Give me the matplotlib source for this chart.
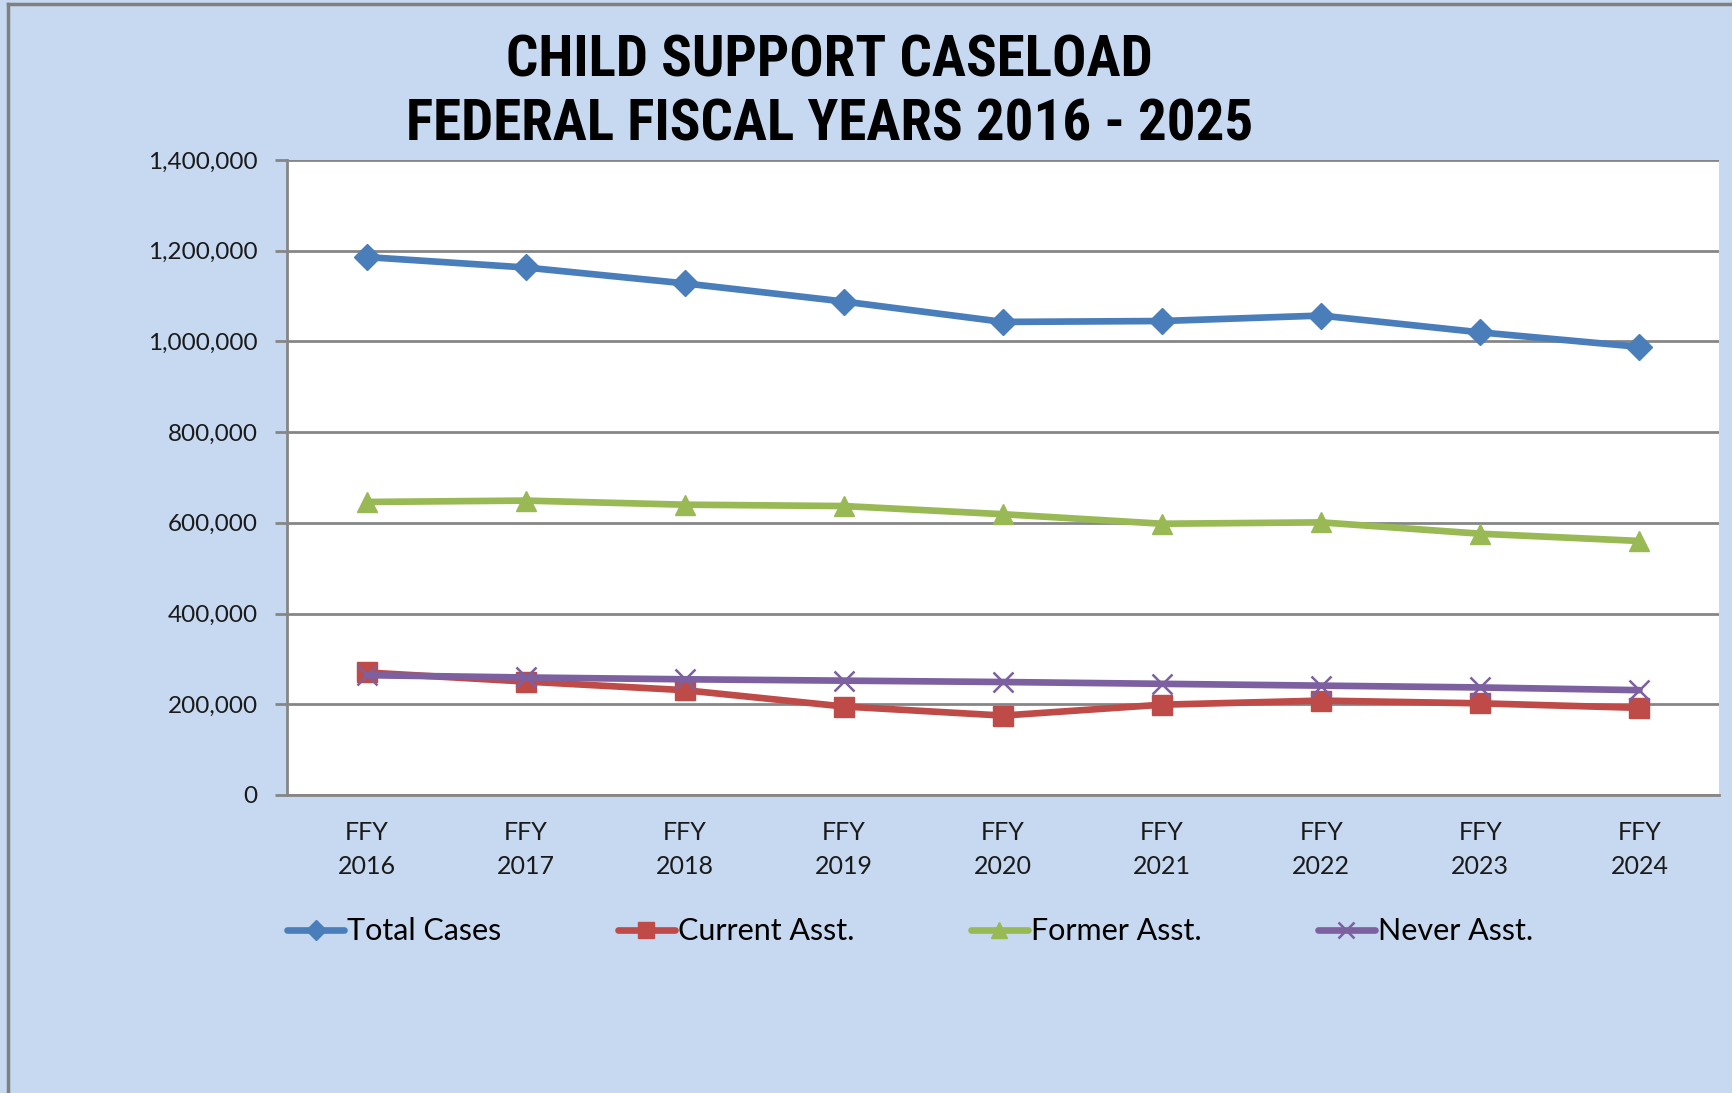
import matplotlib
matplotlib.use("Agg")
import matplotlib.pyplot as plt
from matplotlib.lines import Line2D
from matplotlib.ticker import FuncFormatter
from matplotlib import font_manager

categories = ["FFY\n2016", "FFY\n2017", "FFY\n2018", "FFY\n2019", "FFY\n2020",
              "FFY\n2021", "FFY\n2022", "FFY\n2023", "FFY\n2024"]
total_cases = [1186000, 1163000, 1128000, 1088000, 1043000, 1045000, 1057000, 1020000, 988000]
current_asst = [270000, 250000, 231000, 195000, 175000, 199000, 208000, 202000, 192000]
former_asst = [646000, 649000, 640000, 637000, 619000, 598000, 601000, 576000, 560000]
never_asst = [264000, 259000, 255000, 252000, 249000, 245000, 241000, 237000, 231000]
y_ticks = [0, 200000, 400000, 600000, 800000, 1000000, 1200000, 1400000]

BG = "#C6D9F0"
GRID = "#868686"

installed = {f.name for f in font_manager.fontManager.ttflist}
title_family = "DejaVu Sans"
title_stretch = "normal"
title_size = 36
for cand in ["Liberation Sans Narrow", "DejaVu Sans Condensed", "Roboto Condensed",
             "Open Sans Condensed"]:
    if cand in installed:
        title_family = cand
        title_size = 41
        break
else:
    cond = [f for f in font_manager.fontManager.ttflist
            if f.name == "DejaVu Sans" and f.stretch in ("condensed", "semi-condensed")]
    if cond:
        title_stretch = "condensed"
        title_size = 38

fig = plt.figure(figsize=(17.32, 10.93), dpi=100, facecolor=BG)
ax = fig.add_axes([0.1657, 0.2727, 0.8268, 0.5809])
ax.set_facecolor("white")

x = list(range(len(categories)))
series = [
    ("Total Cases", total_cases, "#4A7EBB", "D", 13, None),
    ("Current Asst.", current_asst, "#BE4B48", "s", 15, None),
    ("Former Asst.", former_asst, "#98B954", "^", 15, None),
    ("Never Asst.", never_asst, "#7D60A0", "x", 15, 1.8),
]
handles = []
for name, vals, col, mk, ms, mew in series:
    kw = dict(color=col, lw=4.8, marker=mk, markersize=ms, markerfacecolor=col,
              markeredgecolor=col, solid_capstyle="round", zorder=3)
    if mew:
        kw["markeredgewidth"] = mew
    ax.plot(x, vals, **kw)
    hkw = dict(color=col, lw=4.8, marker=mk, markersize=ms * 0.8,
               markerfacecolor=col, markeredgecolor=col, solid_capstyle="round")
    if mew:
        hkw["markeredgewidth"] = mew
    handles.append(Line2D([], [], label=name, **hkw))

ax.set_xlim(-0.5, len(categories) - 0.5)
ax.set_ylim(0, 1400000)
ax.set_yticks(y_ticks)
ax.yaxis.set_major_formatter(FuncFormatter(lambda v, p: f"{int(v):,}"))
ax.set_xticks(x)
ax.set_xticklabels(categories, fontsize=18, family="Lato", color="#1a1a1a", linespacing=1.55)
for lab in ax.get_yticklabels():
    lab.set_fontsize(17.5)
    lab.set_family("Lato")
    lab.set_color("#1a1a1a")

ax.yaxis.grid(True, color=GRID, lw=2, zorder=1)
ax.set_axisbelow(True)
for s in ["top", "right"]:
    ax.spines[s].set_visible(False)
for s in ["left", "bottom"]:
    ax.spines[s].set_color(GRID)
    ax.spines[s].set_linewidth(2)
ax.tick_params(axis="y", length=9, width=2, color=GRID, pad=12)
ax.tick_params(axis="x", length=0, pad=19)

tkw = dict(ha="center", va="center", fontsize=title_size, fontweight="bold",
           family=title_family, fontstretch=title_stretch, color="black")
fig.text(0.479, 0.944, "CHILD SUPPORT CASELOAD", **tkw)
fig.text(0.479, 0.886, "FEDERAL FISCAL YEARS 2016 - 2025", **tkw)

leg = fig.legend(handles=handles, loc="center left", bbox_to_anchor=(0.150, 0.148),
                 ncol=4, frameon=False, handlelength=1.87,
                 handletextpad=0.1, columnspacing=3.8,
                 prop={"family": "Lato", "size": 22})

# outer border lines (left and top)
fig.add_artist(Line2D([0.0046, 0.0046], [0, 0.996], transform=fig.transFigure,
                      color="#808080", lw=2.5))
fig.add_artist(Line2D([0.0046, 1.0], [0.996, 0.996], transform=fig.transFigure,
                      color="#808080", lw=2.5))

fig.savefig("out.png", dpi=100, facecolor=BG)
